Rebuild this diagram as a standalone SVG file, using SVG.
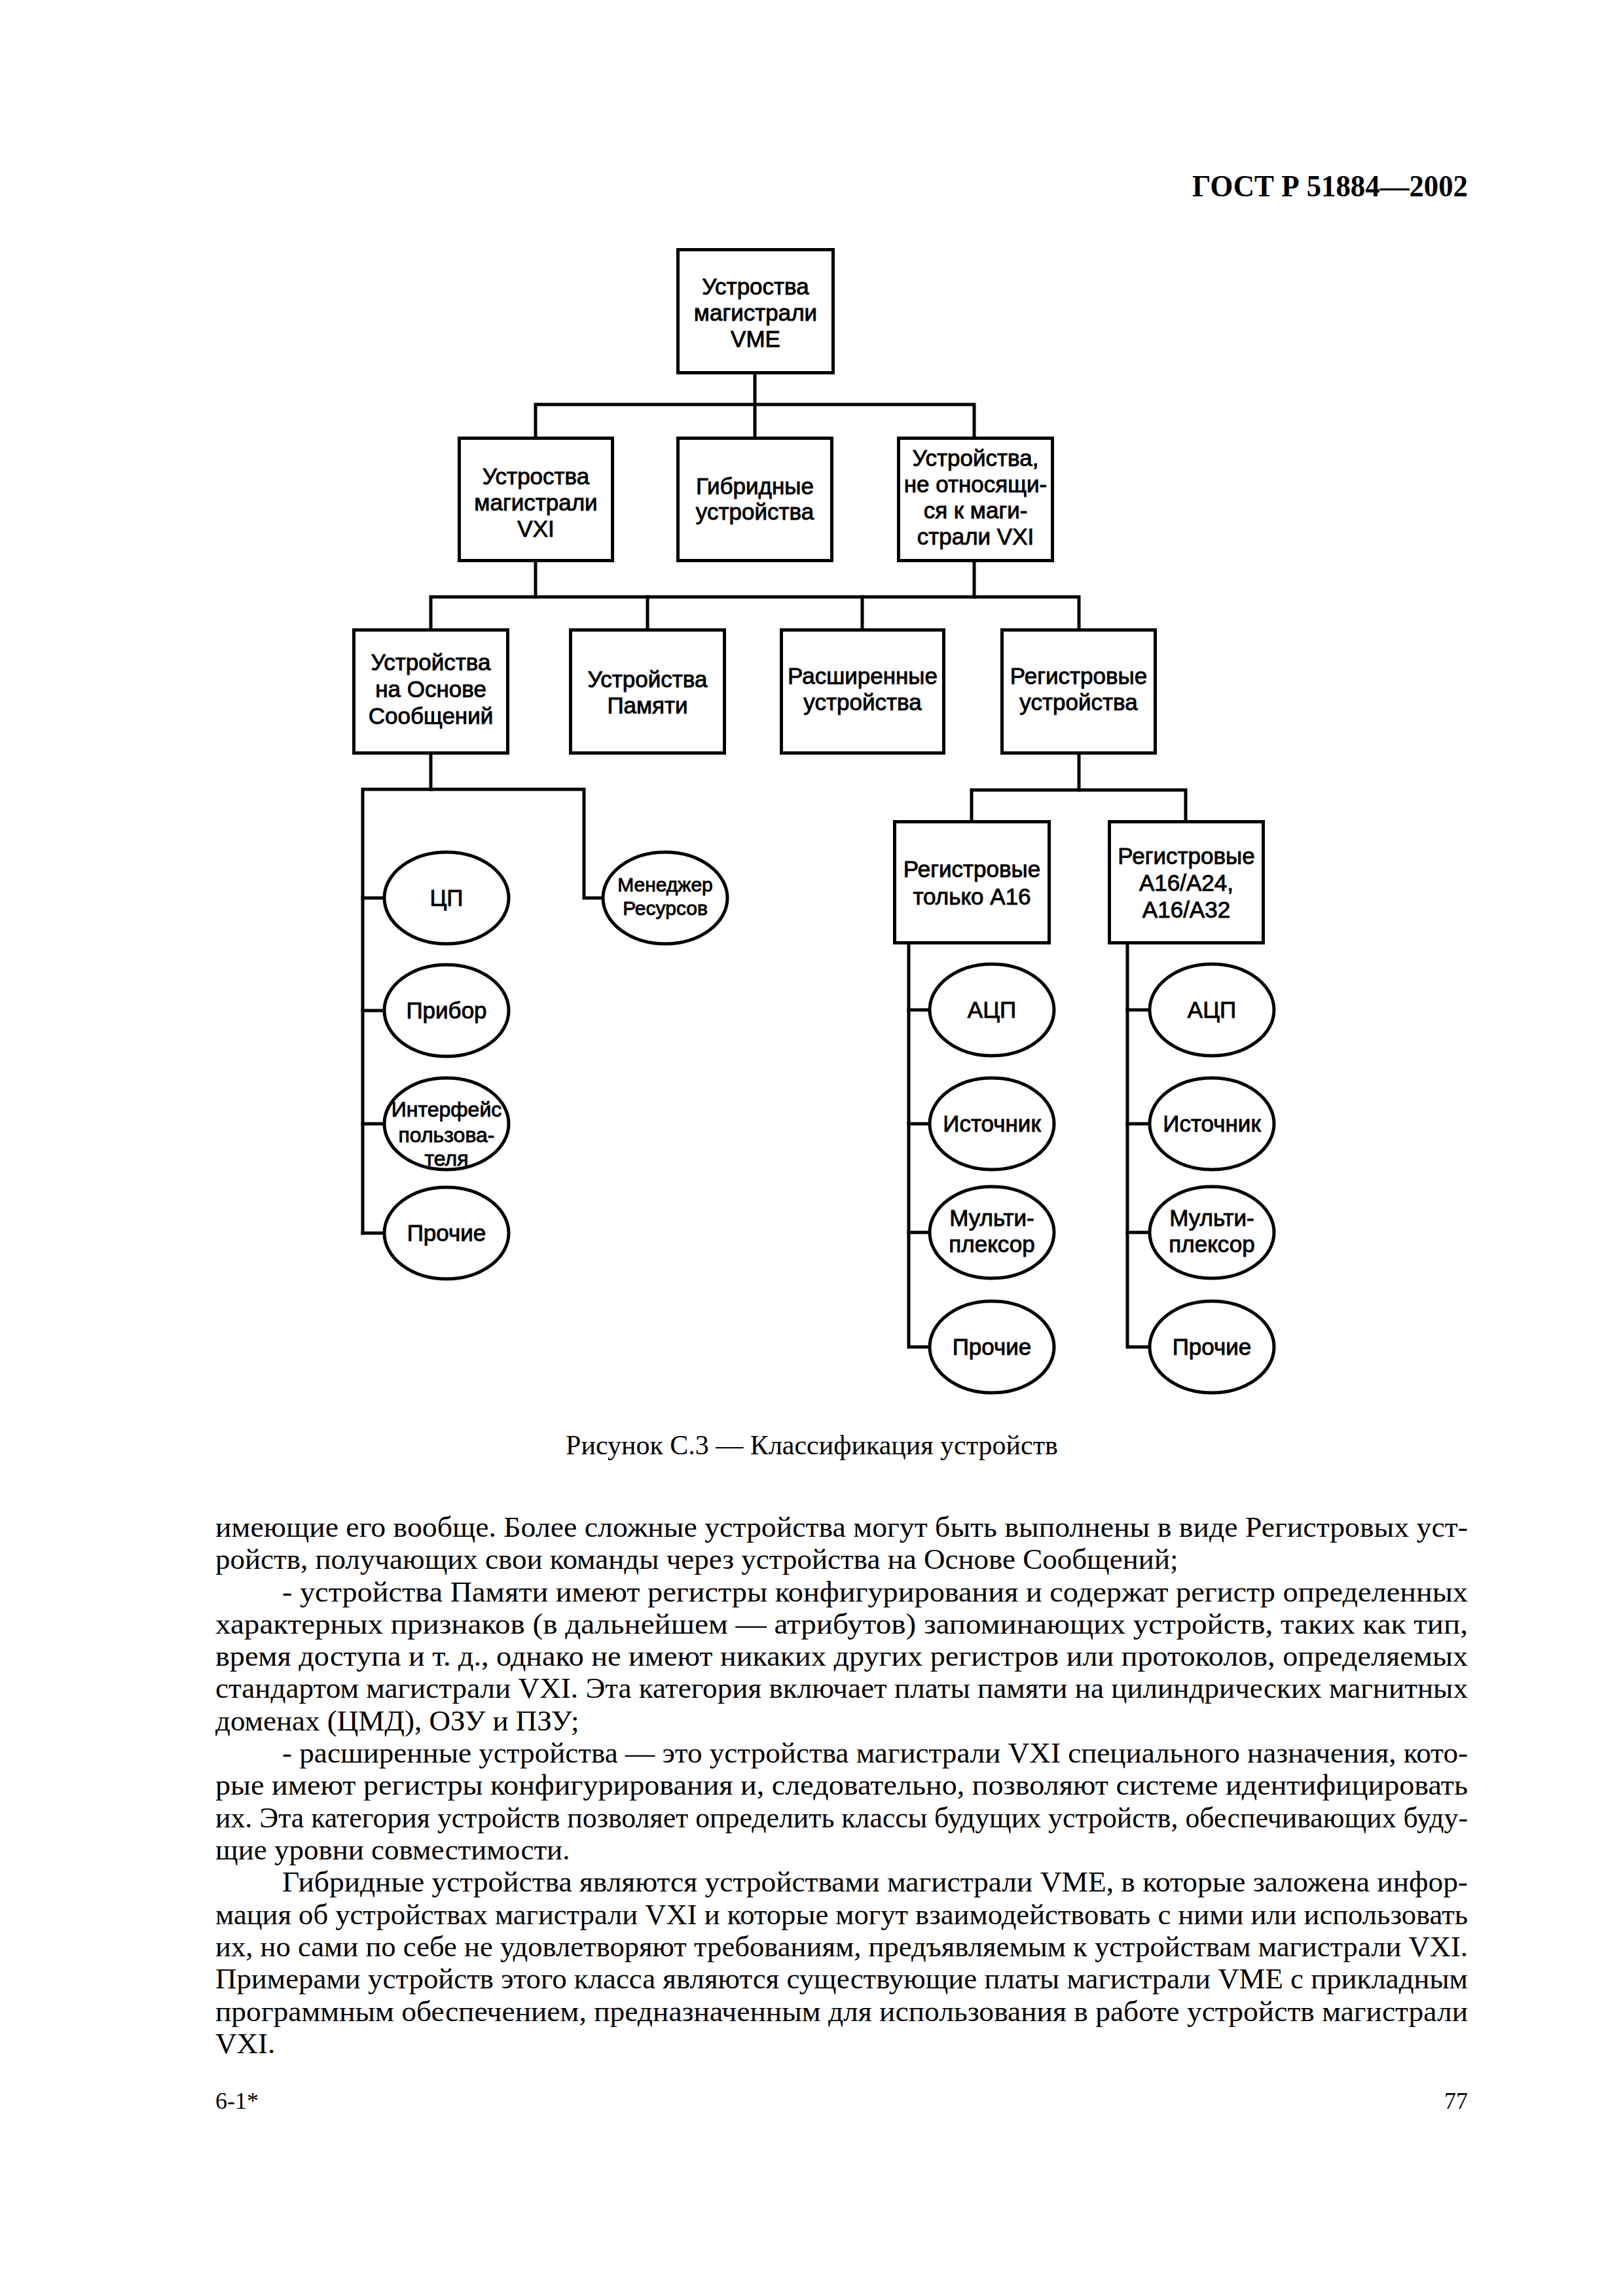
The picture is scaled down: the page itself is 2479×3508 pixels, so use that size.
<svg xmlns="http://www.w3.org/2000/svg" width="2479" height="3508" viewBox="0 0 2479 3508">
<style>
.bg{fill:#fff}
.box{fill:#fff;stroke:#000;stroke-width:5}
.ell{fill:#fff;stroke:#000;stroke-width:5}
.ln{fill:none;stroke:#000;stroke-width:5;stroke-linejoin:miter;stroke-linecap:square}
.t{font-family:"Liberation Sans",Arial,sans-serif;font-size:35px;text-anchor:middle;fill:#000;stroke:#000;stroke-width:0.9}
.t30{font-size:30px}
.t32{font-size:32px}
.body{font-family:"Liberation Serif","Times New Roman",serif;font-size:45px;fill:#000}
.hdr{font-family:"Liberation Serif","Times New Roman",serif;font-size:46px;font-weight:bold;fill:#000}
.cap{font-family:"Liberation Serif","Times New Roman",serif;font-size:42px;text-anchor:middle;fill:#000}
.ft{font-family:"Liberation Serif","Times New Roman",serif;font-size:36px;fill:#000}
</style>
<rect class="bg" x="0" y="0" width="2479" height="3508"/>

<text class="hdr" x="1821" y="300" textLength="421" lengthAdjust="spacingAndGlyphs">ГОСТ Р 51884—2002</text>

<g id="connectors">
  <path class="ln" d="M1153,572 V667"/>
  <path class="ln" d="M818,667 V618 H1488 V667"/>
  <path class="ln" d="M818,859 V912"/>
  <path class="ln" d="M1488,859 V912"/>
  <path class="ln" d="M658,960 V912 H1648 V960"/>
  <path class="ln" d="M989,912 V960"/>
  <path class="ln" d="M1317,912 V960"/>
  <path class="ln" d="M658,1153 V1206"/>
  <path class="ln" d="M554,1884 V1206 H892 V1372 H921"/>
  <path class="ln" d="M554,1372 H587"/>
  <path class="ln" d="M554,1544 H587"/>
  <path class="ln" d="M554,1717 H587"/>
  <path class="ln" d="M554,1884 H587"/>
  <path class="ln" d="M1648,1153 V1207"/>
  <path class="ln" d="M1484,1253 V1207 H1811 V1253"/>
  <path class="ln" d="M1388,1443 V2058 H1420"/>
  <path class="ln" d="M1388,1543 H1420"/>
  <path class="ln" d="M1388,1717 H1420"/>
  <path class="ln" d="M1388,1883 H1420"/>
  <path class="ln" d="M1722,1443 V2058 H1756"/>
  <path class="ln" d="M1722,1543 H1756"/>
  <path class="ln" d="M1722,1717 H1756"/>
  <path class="ln" d="M1722,1883 H1756"/>
</g>

<g id="n-vme">
  <rect class="box" x="1035.5" y="381.5" width="237" height="188"/>
  <text class="t" x="1154" y="450">Устроства</text>
  <text class="t" x="1154" y="490">магистрали</text>
  <text class="t" x="1154" y="530">VME</text>
</g>
<g id="n-vxi">
  <rect class="box" x="701.5" y="669.5" width="234" height="187"/>
  <text class="t" x="818.5" y="740">Устроства</text>
  <text class="t" x="818.5" y="780">магистрали</text>
  <text class="t" x="818.5" y="820">VXI</text>
</g>
<g id="n-hybrid">
  <rect class="box" x="1035.5" y="669.5" width="235" height="187"/>
  <text class="t" x="1153" y="755">Гибридные</text>
  <text class="t" x="1153" y="794">устройства</text>
</g>
<g id="n-nonvxi">
  <rect class="box" x="1372.5" y="669.5" width="235" height="187"/>
  <text class="t" x="1490" y="712">Устройства,</text>
  <text class="t" x="1490" y="752">не относящи-</text>
  <text class="t" x="1490" y="792">ся к маги-</text>
  <text class="t" x="1490" y="832">страли VXI</text>
</g>
<g id="n-msg">
  <rect class="box" x="540.5" y="962.5" width="235" height="188"/>
  <text class="t" x="658" y="1024">Устройства</text>
  <text class="t" x="658" y="1065">на Основе</text>
  <text class="t" x="658" y="1106">Сообщений</text>
</g>
<g id="n-mem">
  <rect class="box" x="871.5" y="962.5" width="235" height="188"/>
  <text class="t" x="989" y="1050">Устройства</text>
  <text class="t" x="989" y="1090">Памяти</text>
</g>
<g id="n-ext">
  <rect class="box" x="1193.5" y="962.5" width="248" height="188"/>
  <text class="t" x="1317.5" y="1045">Расширенные</text>
  <text class="t" x="1317.5" y="1085">устройства</text>
</g>
<g id="n-reg">
  <rect class="box" x="1530.5" y="962.5" width="234" height="188"/>
  <text class="t" x="1647.5" y="1045">Регистровые</text>
  <text class="t" x="1647.5" y="1085">устройства</text>
</g>
<g id="n-rega16">
  <rect class="box" x="1366.5" y="1255.5" width="236" height="185"/>
  <text class="t" x="1484.5" y="1340">Регистровые</text>
  <text class="t" x="1484.5" y="1382">только А16</text>
</g>
<g id="n-rega32">
  <rect class="box" x="1694.5" y="1255.5" width="235" height="185"/>
  <text class="t" x="1812" y="1320">Регистровые</text>
  <text class="t" x="1812" y="1361">А16/А24,</text>
  <text class="t" x="1812" y="1402">А16/А32</text>
</g>

<g id="n-cpu">
  <ellipse class="ell" cx="682" cy="1372" rx="95" ry="70"/>
  <text class="t" x="682" y="1384">ЦП</text>
</g>
<g id="n-instr">
  <ellipse class="ell" cx="682" cy="1544" rx="95" ry="70"/>
  <text class="t" x="682" y="1556">Прибор</text>
</g>
<g id="n-ui">
  <ellipse class="ell" cx="682" cy="1717" rx="95" ry="70"/>
  <text class="t t32" x="682" y="1706">Интерфейс</text>
  <text class="t t32" x="682" y="1745">пользова-</text>
  <text class="t t32" x="682" y="1781">теля</text>
</g>
<g id="n-other1">
  <ellipse class="ell" cx="682" cy="1884" rx="95" ry="70"/>
  <text class="t" x="682" y="1896">Прочие</text>
</g>
<g id="n-resmgr">
  <ellipse class="ell" cx="1016" cy="1372" rx="95" ry="70"/>
  <text class="t t30" x="1016" y="1362">Менеджер</text>
  <text class="t t30" x="1016" y="1398">Ресурсов</text>
</g>

<g id="n-adc1">
  <ellipse class="ell" cx="1515" cy="1543" rx="95" ry="70"/>
  <text class="t" x="1515" y="1555">АЦП</text>
</g>
<g id="n-src1">
  <ellipse class="ell" cx="1515" cy="1717" rx="95" ry="70"/>
  <text class="t" x="1515" y="1729">Источник</text>
</g>
<g id="n-mux1">
  <ellipse class="ell" cx="1515" cy="1883" rx="95" ry="70"/>
  <text class="t" x="1515" y="1873">Мульти-</text>
  <text class="t" x="1515" y="1913">плексор</text>
</g>
<g id="n-other2">
  <ellipse class="ell" cx="1515" cy="2058" rx="95" ry="70"/>
  <text class="t" x="1515" y="2070">Прочие</text>
</g>

<g id="n-adc2">
  <ellipse class="ell" cx="1851" cy="1543" rx="95" ry="70"/>
  <text class="t" x="1851" y="1555">АЦП</text>
</g>
<g id="n-src2">
  <ellipse class="ell" cx="1851" cy="1717" rx="95" ry="70"/>
  <text class="t" x="1851" y="1729">Источник</text>
</g>
<g id="n-mux2">
  <ellipse class="ell" cx="1851" cy="1883" rx="95" ry="70"/>
  <text class="t" x="1851" y="1873">Мульти-</text>
  <text class="t" x="1851" y="1913">плексор</text>
</g>
<g id="n-other3">
  <ellipse class="ell" cx="1851" cy="2058" rx="95" ry="70"/>
  <text class="t" x="1851" y="2070">Прочие</text>
</g>

<text class="cap" x="1240" y="2222">Рисунок С.3 — Классификация устройств</text>

<g id="body">
  <text class="body" x="329" y="2348" textLength="1913" lengthAdjust="spacingAndGlyphs">имеющие его вообще. Более сложные устройства могут быть выполнены в виде Регистровых уст-</text>
  <text class="body" x="329" y="2397">ройств, получающих свои команды через устройства на Основе Сообщений;</text>
  <text class="body" x="431" y="2447" textLength="1811" lengthAdjust="spacingAndGlyphs">- устройства Памяти имеют регистры конфигурирования и содержат регистр определенных</text>
  <text class="body" x="329" y="2496" textLength="1913" lengthAdjust="spacingAndGlyphs">характерных признаков (в дальнейшем — атрибутов) запоминающих устройств, таких как тип,</text>
  <text class="body" x="329" y="2545" textLength="1913" lengthAdjust="spacingAndGlyphs">время доступа и т. д., однако не имеют никаких других регистров или протоколов, определяемых</text>
  <text class="body" x="329" y="2594" textLength="1913" lengthAdjust="spacingAndGlyphs">стандартом магистрали VXI. Эта категория включает платы памяти на цилиндрических магнитных</text>
  <text class="body" x="329" y="2644">доменах (ЦМД), ОЗУ и ПЗУ;</text>
  <text class="body" x="431" y="2693" textLength="1811" lengthAdjust="spacingAndGlyphs">- расширенные устройства — это устройства магистрали VXI специального назначения, кото-</text>
  <text class="body" x="329" y="2742" textLength="1913" lengthAdjust="spacingAndGlyphs">рые имеют регистры конфигурирования и, следовательно, позволяют системе идентифицировать</text>
  <text class="body" x="329" y="2792" textLength="1913" lengthAdjust="spacingAndGlyphs">их. Эта категория устройств позволяет определить классы будущих устройств, обеспечивающих буду-</text>
  <text class="body" x="329" y="2841">щие уровни совместимости.</text>
  <text class="body" x="431" y="2890" textLength="1811" lengthAdjust="spacingAndGlyphs">Гибридные устройства являются устройствами магистрали VME, в которые заложена инфор-</text>
  <text class="body" x="329" y="2940" textLength="1913" lengthAdjust="spacingAndGlyphs">мация об устройствах магистрали VXI и которые могут взаимодействовать с ними или использовать</text>
  <text class="body" x="329" y="2989" textLength="1913" lengthAdjust="spacingAndGlyphs">их, но сами по себе не удовлетворяют требованиям, предъявляемым к устройствам магистрали VXI.</text>
  <text class="body" x="329" y="3038" textLength="1913" lengthAdjust="spacingAndGlyphs">Примерами устройств этого класса являются существующие платы магистрали VME с прикладным</text>
  <text class="body" x="329" y="3088" textLength="1913" lengthAdjust="spacingAndGlyphs">программным обеспечением, предназначенным для использования в работе устройств магистрали</text>
  <text class="body" x="329" y="3137">VXI.</text>
</g>

<text class="ft" x="329" y="3222">6-1*</text>
<text class="ft" x="2242" y="3222" text-anchor="end">77</text>
</svg>
